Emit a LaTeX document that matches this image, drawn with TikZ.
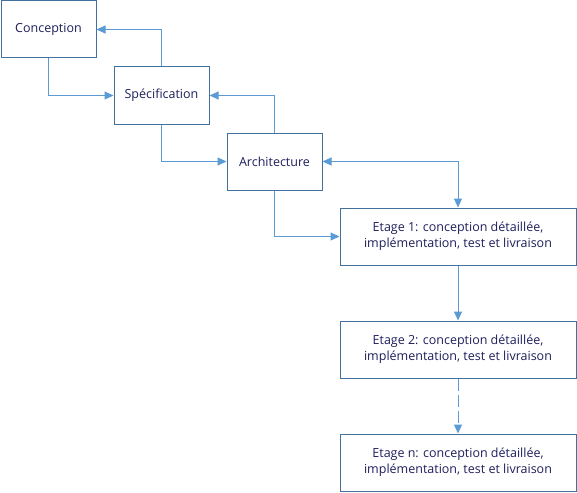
\documentclass[tikz,border=0pt]{standalone}
\usepackage{fontspec}
\setmainfont{Open Sans}
\usetikzlibrary{arrows.meta}
\definecolor{boxline}{HTML}{41719C}
\definecolor{arrline}{HTML}{5B9BD5}
\definecolor{boxtext}{HTML}{1F1F5C}
\begin{document}
\begin{tikzpicture}[x=1pt,y=-1pt,
  phase/.style={draw=boxline,line width=1pt,fill=white,text=boxtext,font=\fontsize{12.5}{16}\selectfont,
    minimum width=95pt,minimum height=57pt,inner sep=0pt,align=center},
  etage/.style={phase,minimum width=236pt},
  arr/.style={draw=arrline,line width=1pt,-{Triangle[length=9pt,width=8pt]}},
  darr/.style={arr,{Triangle[length=9pt,width=8pt]}-{Triangle[length=9pt,width=8pt]}}]
  \useasboundingbox (0,0) rectangle (577,492);
	\node[phase] (concep) at (48.5,29.5) {Conception};
	\node[phase] (spec) at (161.5,95.5) {Spécification};
	\node[phase] (archi) at (274.5,161.5) {Architecture};
	\node[etage] (etage1) at (458,236.5) {Etage 1: conception détaillée,\\implémentation, test et livraison};
	\node[etage] (etage2) at (458,349.5) {Etage 2: conception détaillée,\\implémentation, test et livraison};
	\node[etage] (etagen) at (458,462.5) {Etage n: conception détaillée,\\implémentation, test et livraison};
	\draw[arr] (concep.south) |- (spec.west);
	\draw[arr] (spec.north) |- (concep.east);
	\draw[arr] (spec.south) |- (archi.west);
	\draw[arr] (archi.north) |- (spec.east);
	\draw[arr] (archi.south) |- (etage1.west);
	\draw[darr] (archi.east) -| (etage1.north);
	\draw[arr] (etage1) -- (etage2);
	\draw[arr,dash pattern=on 12pt off 4pt] (etage2) -- (etagen);
\end{tikzpicture}
\end{document}
